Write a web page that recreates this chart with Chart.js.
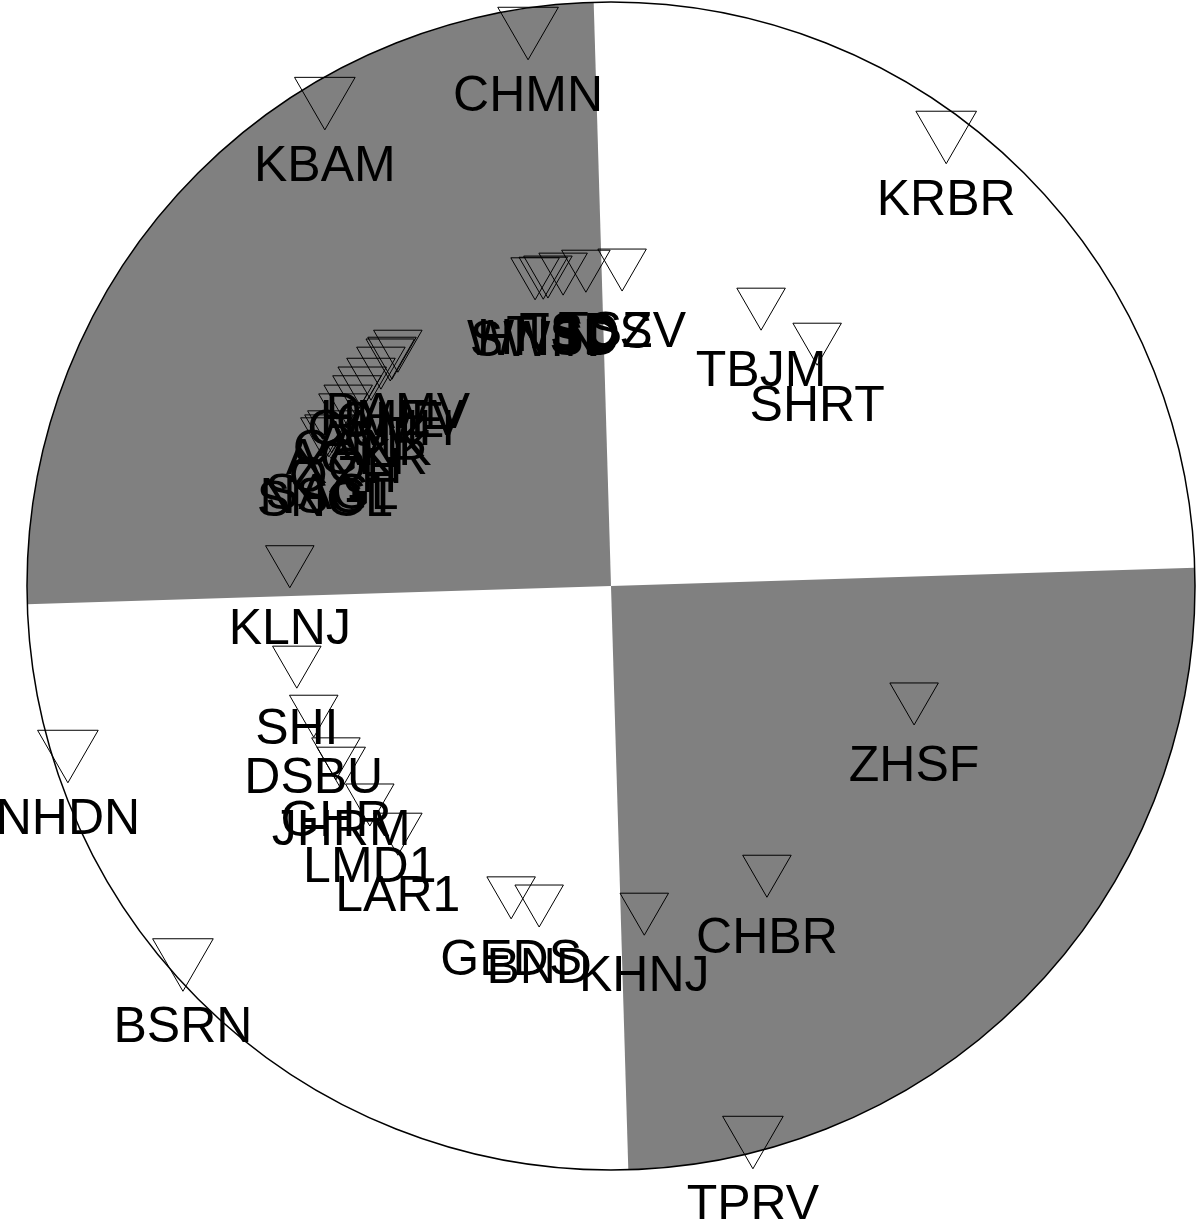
<!DOCTYPE html>
<html>
<head>
<meta charset="utf-8">
<script src="https://cdn.jsdelivr.net/npm/chart.js@4/dist/chart.umd.min.js"></script>
<style>
  html, body { margin: 0; padding: 0; background: #ffffff; }
  #wrap { width: 1197px; height: 1219px; }
</style>
</head>
<body>
<div id="wrap"><canvas id="c" width="1197" height="1219"></canvas></div>
<script>
// Station names (projected positions on the lower hemisphere, unit circle)
const stationNames = [
  'CHMN','KBAM','KRBR','TBJM','SHRT',
  'SWIN','WNSD','HNSD','TISD','TSDS','TSZV',
  'DAMV','HMEV','QHE','CAMH','AMK','CANK','AGKR','XQH','OXH','SAGL','NSGT','SNGL',
  'KLNJ','SHI','DSBU','GHR','JHRM','LMD1','LAR1','GEDS','BND','KHNJ','CHBR','ZHSF',
  'NHDN','BSRN','TPRV'
];
const stationX = [
  -0.142,-0.490, 0.574, 0.257, 0.353,
  -0.130,-0.116,-0.108,-0.082,-0.043, 0.019,
  -0.365,-0.375,-0.378,-0.394,-0.411,-0.426,-0.435,-0.450,-0.459,-0.478,-0.483,-0.490,
  -0.550,-0.538,-0.509,-0.471,-0.462,-0.413,-0.365,-0.171,-0.123, 0.057, 0.267, 0.519,
  -0.930,-0.733, 0.243
];
const stationY = [
   0.961, 0.841, 0.783, 0.486, 0.426,
   0.538, 0.539, 0.541, 0.546, 0.551, 0.553,
   0.414, 0.402, 0.399, 0.385, 0.366, 0.351, 0.336, 0.320, 0.305, 0.276, 0.269, 0.264,
   0.045,-0.127,-0.211,-0.284,-0.300,-0.363,-0.413,-0.522,-0.536,-0.550,-0.485,-0.190,
  -0.277,-0.634,-0.938
];
// 1 = large marker, 0 = small marker
const stationLarge = [
  1,1,1,0,0,
  0,0,0,0,0,0,
  0,0,0,0,0,0,0,0,0,0,0,0,
  0,0,0,0,0,0,0,0,0,0,0,0,
  1,1,1
];
// Nodal plane azimuths (degrees clockwise from north)
const nodalAzimuths = [358.3, 88.2];
// Compressional (shaded) sectors: [start azimuth, end azimuth]
const shadedSectors = [[268.2, 358.3], [88.2, 178.3]];

const points = stationX.map((x, i) => ({ x: x, y: stationY[i] }));

const beachball = {
  id: 'beachball',
  beforeDatasetsDraw(chart) {
    const ctx = chart.ctx;
    const xs = chart.scales.x, ys = chart.scales.y;
    const cx = xs.getPixelForValue(0), cy = ys.getPixelForValue(0);
    const R = xs.getPixelForValue(1) - cx;
    const toCanvas = az => (az - 90) * Math.PI / 180;
    ctx.save();
    ctx.beginPath();
    ctx.arc(cx, cy, R, 0, Math.PI * 2);
    ctx.fillStyle = '#ffffff';
    ctx.fill();
    ctx.fillStyle = 'rgb(128,128,128)';
    shadedSectors.forEach(s => {
      ctx.beginPath();
      ctx.moveTo(cx, cy);
      ctx.arc(cx, cy, R, toCanvas(s[0]), toCanvas(s[1]), false);
      ctx.closePath();
      ctx.fill();
    });
    ctx.beginPath();
    ctx.arc(cx, cy, R, 0, Math.PI * 2);
    ctx.lineWidth = 1.5;
    ctx.strokeStyle = '#000000';
    ctx.stroke();
    ctx.restore();
  },
  afterDatasetsDraw(chart) {
    const ctx = chart.ctx;
    const meta = chart.getDatasetMeta(0);
    ctx.save();
    ctx.font = '50px "Liberation Sans", Arial, sans-serif';
    ctx.fillStyle = '#000000';
    ctx.textAlign = 'center';
    ctx.textBaseline = 'alphabetic';
    meta.data.forEach((el, i) => {
      const off = stationLarge[i] ? 86 : 84;
      ctx.fillText(stationNames[i], el.x, el.y + off);
    });
    ctx.restore();
  }
};

new Chart(document.getElementById('c'), {
  type: 'scatter',
  data: {
    datasets: [{
      data: points,
      pointStyle: 'triangle',
      pointRotation: 180,
      pointRadius: stationLarge.map(b => b ? 35 : 28),
      pointHoverRadius: stationLarge.map(b => b ? 35 : 28),
      pointBorderWidth: 1,
      borderColor: '#000000',
      backgroundColor: 'rgba(0,0,0,0)',
      pointBackgroundColor: 'rgba(0,0,0,0)',
      pointBorderColor: '#000000',
      clip: false
    }]
  },
  options: {
    responsive: false,
    animation: false,
    layout: { autoPadding: false, padding: { left: 27, right: 2, top: 2, bottom: 49 } },
    plugins: { legend: { display: false }, tooltip: { enabled: false } },
    events: [],
    scales: {
      x: { type: 'linear', min: -1, max: 1, display: false },
      y: { type: 'linear', min: -1, max: 1, display: false }
    }
  },
  plugins: [beachball]
});
</script>
</body>
</html>
